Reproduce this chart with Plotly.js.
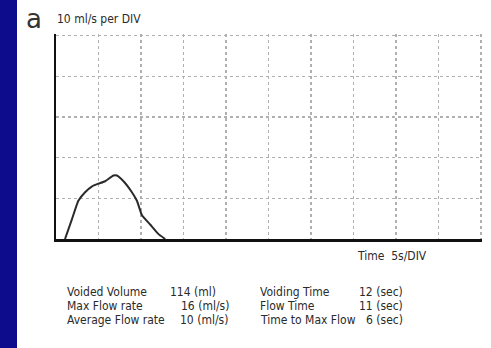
<!DOCTYPE html>
<html><head><meta charset="utf-8">
<script src="https://cdn.plot.ly/plotly-3.0.1.min.js"></script>
<style>html,body{margin:0;padding:0;background:#fff;}#chart{width:491px;height:348px;}</style>
</head><body><div id="chart"></div>
<script>
// Flow curve (time in s, flow in ml/s)
const timeSec = [1.06, 1.85, 2.63, 3.42, 4.21, 4.99, 5.78, 6.76, 7.16, 7.94, 8.93, 9.52, 10.1, 11.1, 12.06, 12.85];
const flowMl  = [0, 4.7, 9.4, 11.5, 12.9, 13.6, 14.2, 15.6, 15.6, 14.2, 11.5, 9.4, 5.9, 3.5, 1.2, 0];

const panelLabel = "a";
const yScaleLabel = "10 ml/s per DIV";
const xScaleLabel = "Time  5s/DIV";
const leftLabels  = ["Voided Volume", "Max Flow rate", "Average Flow rate"];
const leftValues  = ["114 (ml)", "16 (ml/s)", "10 (ml/s)"];
const rightLabels = ["Voiding Time", "Flow Time", "Time to Max Flow"];
const rightValues = ["12 (sec)", "11 (sec)", "6 (sec)"];

const W = 491, H = 348;
const M = {l: 56, r: 9, t: 34, b: 109};
const pw = W - M.l - M.r, ph = H - M.t - M.b;
const px = v => (v - M.l) / pw;      // pixel x -> paper
const py = v => (H - M.b - v) / ph;  // pixel y -> paper

const txtFont = {family: "Liberation Sans Narrow, DejaVu Sans Condensed, sans-serif", size: 12, color: "#2a2a2a"};
const ann = [];
function add(text, x, y, xanchor, font) {
  ann.push({text, x: px(x), y: py(y), xref: "paper", yref: "paper", xanchor, yanchor: "middle",
            showarrow: false, font: font || txtFont});
}
add(panelLabel, 24, 19, "left", {family: "DejaVu Sans, sans-serif", size: 26, color: "#333"});
add(yScaleLabel, 55, 19, "left");
add(xScaleLabel, 355, 256, "left");
const rowsY = [292, 306, 320];
const lvX = [168, 179, 178];
rowsY.forEach((y, i) => {
  add(leftLabels[i], 65, y, "left");
  add(leftValues[i], lvX[i], y, "left");
  add(rightLabels[i], 258, y, "left");
  add(rightValues[i], 405, y, "right");
});

const data = [{
  x: timeSec, y: flowMl, type: "scatter", mode: "lines",
  line: {color: "#2a2a2a", width: 2, shape: "spline", smoothing: 0.4},
  hoverinfo: "skip"
}];

const grid = {showticklabels: false, ticks: "", showgrid: true, gridcolor: "#b0b0b0", griddash: "dot",
              gridwidth: 1.5, showline: true, linecolor: "#111", linewidth: 2.5, zeroline: false, fixedrange: true};
const layout = {
  width: W, height: H, margin: M,
  paper_bgcolor: "#fff", plot_bgcolor: "#fff",
  showlegend: false,
  xaxis: Object.assign({range: [0, 50.12], dtick: 5}, grid),
  yaxis: Object.assign({range: [0, 50.4], dtick: 10}, grid),
  annotations: ann,
  shapes: [{type: "rect", xref: "paper", yref: "paper", x0: px(0), x1: px(17), y0: py(H), y1: py(0),
            fillcolor: "#0c0c8c", line: {width: 0}, layer: "above"}]
};
Plotly.newPlot("chart", data, layout, {staticPlot: true});
</script></body></html>
